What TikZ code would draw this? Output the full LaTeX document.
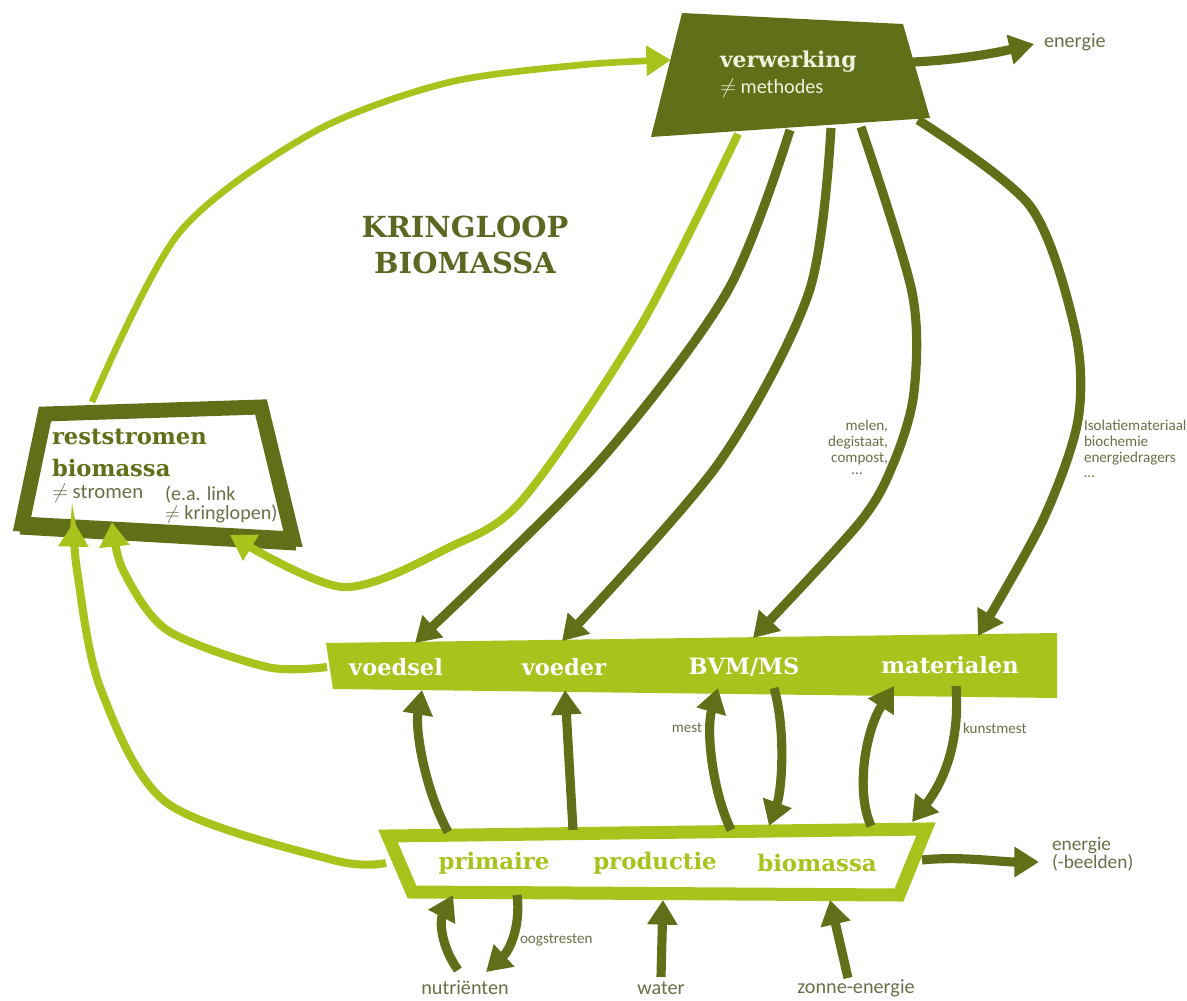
\documentclass[tikz,border=0pt]{standalone}
\usepackage{fontspec}
\usepackage{tikz}
\usetikzlibrary{
    arrows.meta,
    positioning
}
\newfontfamily\slabfont{DejaVu Serif}
\newfontfamily\labelfont{Carlito}
\definecolor{dk}{RGB}{96,112,24}
\definecolor{lt}{RGB}{170,194,28}
\definecolor{titletxt}{RGB}{90,104,34}
\definecolor{labeltxt}{RGB}{104,112,72}
\definecolor{boxtxt}{RGB}{240,242,222}
\tikzset{
    every picture/.style = {
        > = {Triangle[length=14pt, width=16.5pt]},
        x = 0.02cm,
        y = -0.02cm
    },
    every node/.style = {
        inner sep = 0pt,
        outer sep = 0pt
    },
    darkflow/.style = {->, draw = dk, line width = 5.2pt},
    lightflow/.style = {->, draw = lt, line width = 4.6pt},
    slab/.style 2 args = {font = {\slabfont\bfseries\fontsize{#1}{#2}\selectfont}},
    small/.style 2 args = {font = {\labelfont\fontsize{#1}{#2}\selectfont}, text = labeltxt}
}

\begin{document}
\begin{tikzpicture}
    \useasboundingbox (0,0) rectangle (1187,1001);
    \foreach \n/\p in {vo1/{790,130}, vo2/{831,128}, vo3/{861,127}, vo4/{918,120}, vol/{738,134},
        ve/{913,62}, vin/{671,60}, etop/{1034,44}, ebot/{1039,862},
        ba1/{415,643}, ba2/{562,641}, ba3/{753,638}, ba4/{978,636}, bl/{327,667},
        bvoedsel/{422,690}, bvoeder/{565,690}, bmest/{718,688}, bbvm/{774,688}, bmat/{894,686}, bkunst/{956,686},
        pvoedsel/{448,832}, pvoeder/{573,830}, pmest/{731,830}, pbvm/{769,826}, pmat/{871,826}, pkunst/{912,822},
        pl/{386,863}, pr/{922,860}, pnut/{453,895}, poogst/{517,895}, pwater/{663,900}, pzon/{830,900},
        nut/{458,970}, oogst/{486,972}, wat/{661,977}, zon/{848,978},
        rtop/{92,402}, rin1/{74,522}, rin2/{112,522}, rin3/{230,535}}
        \coordinate (\n) at (\p);

    % vormen
    \fill[dk] (682,13) -- (903,24) -- (930,118) -- (651,137) -- cycle;
    \draw[dk, line width = 8.5pt, fill = white] (45,414) -- (261,407) -- (293,539) -- (22,524) -- cycle;
    \draw[dk, line width = 4pt] (20,531) -- (296,547);
    \fill[lt] (326,643) -- (1057,633) -- (1057,698) -- (333,689) -- cycle;
    \draw[lt, line width = 7.4pt, fill = white] (388,836) -- (926,829) -- (899,895) -- (412,892) -- cycle;

    % kringloop
    \draw[lightflow, line width = 3.8pt] plot[smooth] coordinates {(rtop) (179,233) (312,133) (446,83) (580,65) (vin)};
    \draw[lightflow] plot[smooth] coordinates {(vol) (640,327) (523,499) (450,547) (343,587) (rin3)};
    \draw[lightflow] plot[smooth] coordinates {(pl) (333,860) (167,803) (100,687) (77,570) (rin1)};
    \draw[lightflow] plot[smooth] coordinates {(bl) (267,667) (167,630) (123,570) (rin2)};

    \draw[darkflow] plot[smooth] coordinates {(vo1) (727,292) (597,464) (ba1)};
    \draw[darkflow] plot[smooth] coordinates {(vo2) (809,292) (718,464) (ba2)};
    \draw[darkflow] plot[smooth] coordinates {(vo3) (912,292) (914,392) (894,462) (860,522) (ba3)};
    \draw[darkflow] plot[smooth] coordinates {(vo4) (1030,206) (1075,330) (1078,420) (1043,520) (ba4)};
    \draw[darkflow] (ve) .. controls (960,60) and (1000,52) .. (etop);
    \draw[darkflow] (pr) .. controls (960,856) and (1000,862) .. (ebot);

    \draw[darkflow] (pvoedsel) .. controls (425,790) and (415,730) .. (bvoedsel);
    \draw[darkflow] (pvoeder) -- (bvoeder);
    \draw[darkflow] (pmest) .. controls (712,790) and (706,730) .. (bmest);
    \draw[darkflow] (bbvm) .. controls (786,730) and (782,790) .. (pbvm);
    \draw[darkflow] (pmat) .. controls (855,790) and (866,730) .. (bmat);
    \draw[darkflow] (bkunst) .. controls (960,740) and (945,780) .. (pkunst);

    \draw[darkflow] (nut) .. controls (440,945) and (440,920) .. (pnut);
    \draw[darkflow] (poogst) .. controls (521,925) and (510,950) .. (oogst);
    \draw[darkflow] (wat) -- (pwater);
    \draw[darkflow] (zon) -- (pzon);

    % teksten
    \node[slab = {12.4pt}{15pt}, text = boxtxt, anchor = west] (verwerking) at (720,62) {verwerking};
    \node[small = {11.5pt}{14pt}, text = boxtxt, anchor = west] (methodes) at (720,88) {\ensuremath{\neq} methodes};
    \node[small = {11.5pt}{14pt}, anchor = west] (energie) at (1044,42) {energie};
    \node[slab = {16.5pt}{20.5pt}, text = titletxt, align = center] (titel) at (465,245) {KRINGLOOP\\BIOMASSA};

    \node[slab = {12.9pt}{17pt}, text = dk, anchor = west] (rest) at (52,437) {reststromen};
    \node[slab = {12.9pt}{17pt}, text = dk, anchor = west] (restbio) at (52,468) {biomassa};
    \node[small = {11.8pt}{11pt}, anchor = west] (stromen) at (52,493) {\ensuremath{\neq} stromen};
    \node[small = {11.4pt}{11pt}, anchor = north west, align = left] (link) at (165,486) {(e.a. link\\\ensuremath{\neq} kringlopen)};

    \node[slab = {12.8pt}{15pt}, text = white] (voedsel) at (396,667) {voedsel};
    \node[slab = {12.8pt}{15pt}, text = white] (voeder) at (564,667) {voeder};
    \node[slab = {12.8pt}{15pt}, text = white] (bvm) at (744,667) {BVM/MS};
    \node[slab = {12.8pt}{15pt}, text = white] (materialen) at (950,665) {materialen};

    \node[slab = {13pt}{15pt}, text = lt] (primaire) at (494,863) {primaire};
    \node[slab = {13pt}{15pt}, text = lt] (productie) at (655,863) {productie};
    \node[slab = {13pt}{15pt}, text = lt] (biomassa) at (817,863) {biomassa};

    \node[small = {8.6pt}{9pt}, anchor = north east, align = right] (melen) at (888,420) {melen,\\degistaat,\\compost,};
    \node[small = {8.6pt}{9pt}] (melendots) at (857,474) {\ldots};
    \node[small = {8.6pt}{9pt}, anchor = north west, align = left] (isolatie) at (1084,420) {Isolatiemateriaal\\biochemie\\energiedragers\\\ldots};
    \node[small = {8.6pt}{10pt}] (mest) at (687,728) {mest};
    \node[small = {8.6pt}{10pt}, anchor = west] (kunstmest) at (963,728) {kunstmest};
    \node[small = {8.6pt}{10pt}, anchor = west] (oogstresten) at (520,940) {oogstresten};
    \node[small = {11pt}{10pt}, anchor = west, align = left] (energiebeelden) at (1052,854) {energie\\(-beelden)};

    \node[small = {11.5pt}{14pt}] (nutrienten) at (465,988) {nutriënten};
    \node[small = {11.5pt}{14pt}] (water) at (661,988) {water};
    \node[small = {11.5pt}{14pt}] (zonne) at (856,988) {zonne-energie};
\end{tikzpicture}
\end{document}
